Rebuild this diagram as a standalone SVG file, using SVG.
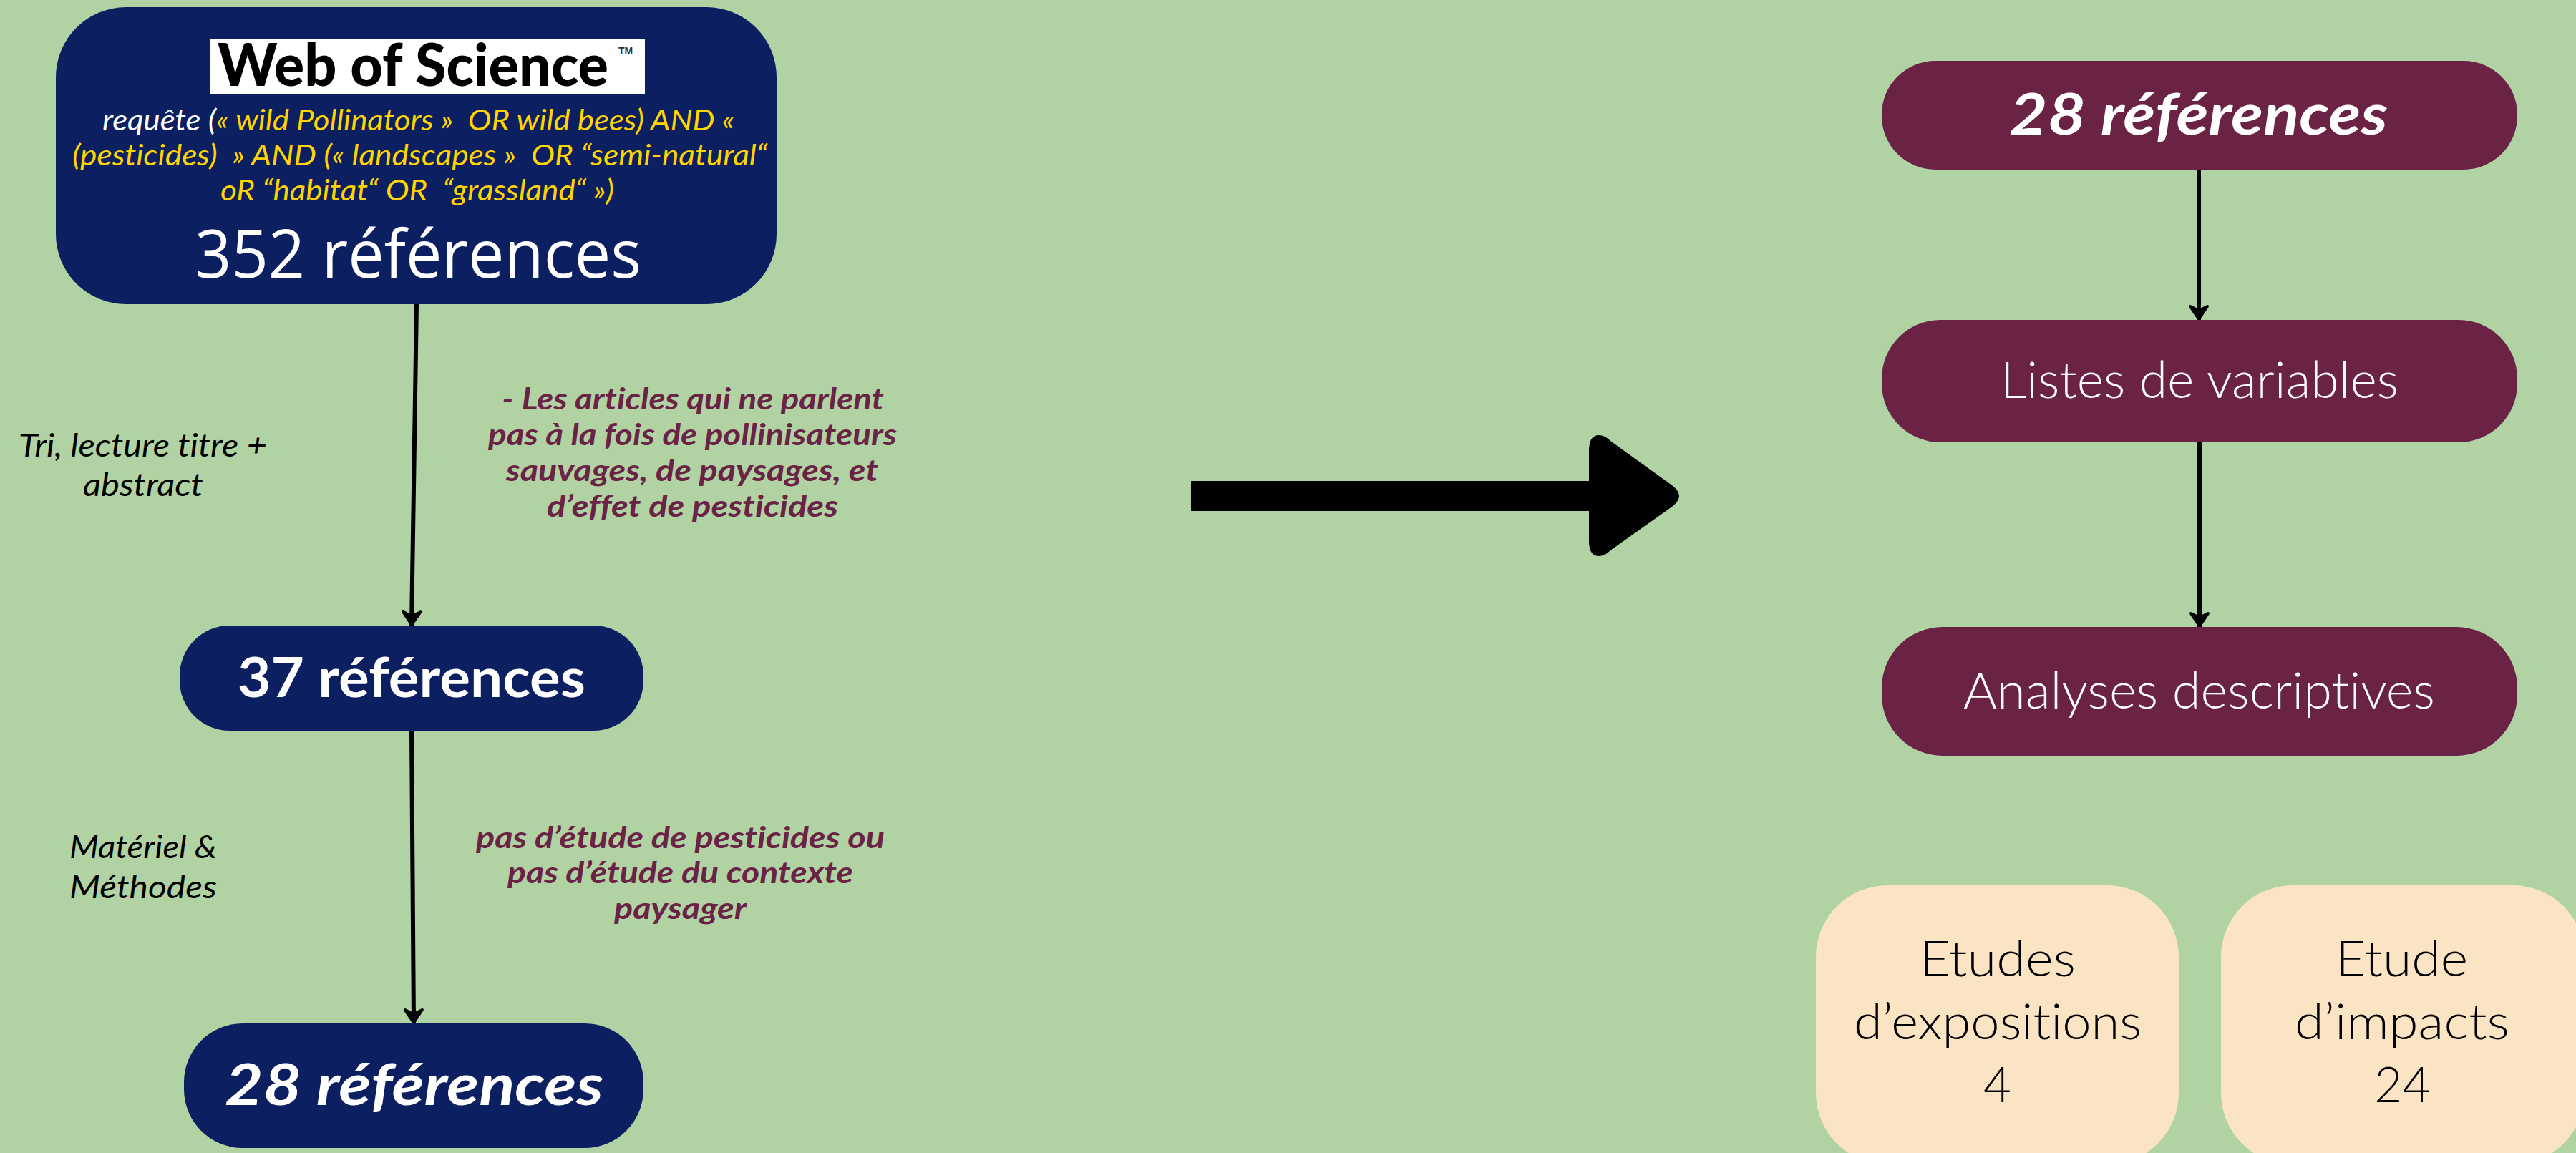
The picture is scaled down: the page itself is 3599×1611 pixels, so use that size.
<svg xmlns="http://www.w3.org/2000/svg" width="3599" height="1611" viewBox="0 0 3599 1611">
<defs>
<marker id="head" markerUnits="userSpaceOnUse" markerWidth="32" markerHeight="32" refX="28" refY="16" orient="auto" viewBox="0 0 32 32"><path d="M9,4 L27,16 L9,28 L15,16 Z" fill="#000" stroke="#000" stroke-width="4" stroke-linejoin="round"/></marker>
</defs>
<style>
text{font-family:"Lato","Liberation Sans",sans-serif;text-anchor:start;font-variant-ligatures:none;white-space:pre}
.navy{fill:#0C2061}.wine{fill:#6A2345}.cream{fill:#FAE4C4}
.c{fill:none;stroke:#000;stroke-width:6;marker-end:url(#head)}
.q{font-size:41px;font-style:italic;fill:#FFD400}
.w{fill:#fff}
.red{font-size:42px;font-style:italic;font-weight:700;fill:#6A2345}
.blk{font-size:45px;font-style:italic;fill:#000}
.lt{font-size:70px;font-weight:300;fill:#fff}
.et{font-size:68px;font-weight:300;fill:#000}
</style>
<rect width="3599" height="1611" fill="#B1D3A4"/>
<g id="connectors">
<path class="c" d="M582,425 L575,874"/>
<path class="c" d="M575,1021 L578,1430"/>
<path class="c" d="M3072,237 L3072,447"/>
<path class="c" d="M3073,618 L3073,876"/>
</g>
<g id="n352">
<rect class="navy" x="78" y="10" width="1007" height="415" rx="98" ry="98"/>
<rect x="294" y="54" width="607" height="77" fill="#fff"/>
<text x="304" y="120" font-size="82" font-weight="900" fill="#000" textLength="546" lengthAdjust="spacingAndGlyphs">Web of Science</text>
<text x="864" y="76" font-size="14" font-weight="700" fill="#333" style="font-family:'Liberation Sans',sans-serif">TM</text>
<text class="q" x="143" y="182" textLength="883" lengthAdjust="spacingAndGlyphs"><tspan class="w">requête (</tspan>« wild Pollinators »  OR wild bees) AND «</text>
<text class="q" x="101" y="231" textLength="971" lengthAdjust="spacingAndGlyphs">(pesticides)  » AND (« landscapes »  OR “semi-natural“</text>
<text class="q" x="308" y="280" textLength="550" lengthAdjust="spacingAndGlyphs">oR “habitat“ OR  “grassland“ »)</text>
<text x="272" y="388" font-size="94" fill="#fff" textLength="624" lengthAdjust="spacingAndGlyphs" style="font-family:'Open Sans',sans-serif">352 références</text>
</g>
<g id="n37">
<rect class="navy" x="251" y="874" width="648" height="147" rx="70" ry="70"/>
<text x="332" y="974" font-size="76" font-weight="700" fill="#fff" textLength="486" lengthAdjust="spacingAndGlyphs">37 références</text>
</g>
<g id="n28a">
<rect class="navy" x="257" y="1430" width="642" height="174" rx="82" ry="82"/>
<text x="314" y="1544" font-size="80" font-weight="700" font-style="italic" fill="#fff" textLength="529" lengthAdjust="spacingAndGlyphs">28 références</text>
</g>
<g id="labels-left">
<text class="blk" x="26" y="638" textLength="347" lengthAdjust="spacingAndGlyphs">Tri, lecture titre +</text>
<text class="blk" x="116" y="693" textLength="168" lengthAdjust="spacingAndGlyphs">abstract</text>
<text class="blk" x="97" y="1199" textLength="206" lengthAdjust="spacingAndGlyphs">Matériel &amp;</text>
<text class="blk" x="97" y="1255" textLength="206" lengthAdjust="spacingAndGlyphs">Méthodes</text>
</g>
<g id="labels-red">
<text class="red" x="701" y="572" textLength="534" lengthAdjust="spacingAndGlyphs"><tspan font-weight="400">- </tspan>Les articles qui ne parlent</text>
<text class="red" x="682" y="622" textLength="571" lengthAdjust="spacingAndGlyphs">pas à la fois de pollinisateurs</text>
<text class="red" x="707" y="672" textLength="520" lengthAdjust="spacingAndGlyphs">sauvages, de paysages, et</text>
<text class="red" x="764" y="722" textLength="407" lengthAdjust="spacingAndGlyphs">d’effet de pesticides</text>
<text class="red" x="665" y="1185" textLength="571" lengthAdjust="spacingAndGlyphs">pas d’étude de pesticides ou</text>
<text class="red" x="709" y="1234" textLength="483" lengthAdjust="spacingAndGlyphs">pas d’étude du contexte</text>
<text class="red" x="858" y="1284" textLength="185" lengthAdjust="spacingAndGlyphs">paysager</text>
</g>
<g id="big-arrow">
<path fill="#000" d="M1664,672 H2220 V630 Q2220,608 2234,608 Q2242,608 2250,616 L2336,678 Q2346,686 2346,693 Q2346,700 2336,708 L2250,769 Q2242,777 2234,777 Q2220,777 2220,756 V714 H1664 Z"/>
</g>
<g id="n28b">
<rect class="wine" x="2629" y="85" width="888" height="152" rx="75" ry="75"/>
<text x="2807" y="188" font-size="80" font-weight="700" font-style="italic" fill="#fff" textLength="529" lengthAdjust="spacingAndGlyphs">28 références</text>
</g>
<g id="n-listes">
<rect class="wine" x="2629" y="447" width="888" height="171" rx="82" ry="82"/>
<text class="lt" x="2795" y="556" textLength="556" lengthAdjust="spacingAndGlyphs">Listes de variables</text>
</g>
<g id="n-analyses">
<rect class="wine" x="2629" y="876" width="888" height="180" rx="85" ry="85"/>
<text class="lt" x="2743" y="990" textLength="659" lengthAdjust="spacingAndGlyphs">Analyses descriptives</text>
</g>
<g id="n-expositions">
<rect class="cream" x="2537" y="1237" width="507" height="390" rx="100" ry="100"/>
<text class="et" x="2682" y="1364" textLength="218" lengthAdjust="spacingAndGlyphs">Etudes</text>
<text class="et" x="2590" y="1452" textLength="402" lengthAdjust="spacingAndGlyphs">d’expositions</text>
<text class="et" x="2771" y="1540" textLength="39" lengthAdjust="spacingAndGlyphs">4</text>
</g>
<g id="n-impacts">
<rect class="cream" x="3103" y="1237" width="508" height="390" rx="100" ry="100"/>
<text class="et" x="3263" y="1364" textLength="185" lengthAdjust="spacingAndGlyphs">Etude</text>
<text class="et" x="3206" y="1452" textLength="300" lengthAdjust="spacingAndGlyphs">d’impacts</text>
<text class="et" x="3317" y="1540" textLength="79" lengthAdjust="spacingAndGlyphs">24</text>
</g>
</svg>
